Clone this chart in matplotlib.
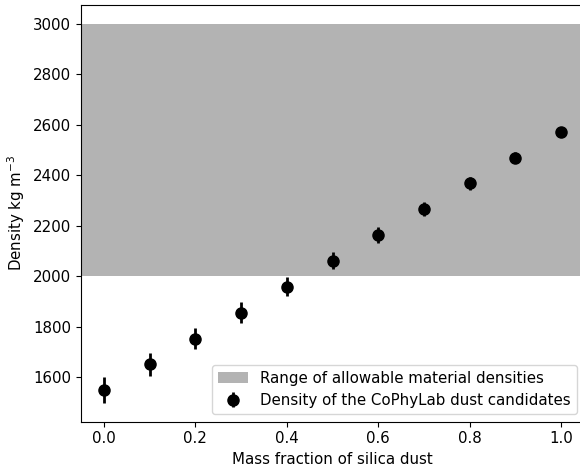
import matplotlib
matplotlib.use("Agg")
import matplotlib.pyplot as plt
import numpy as np

# mass fraction of silica and measured bulk densities
silica_frac = [0.0, 0.1, 0.2, 0.3, 0.4, 0.5, 0.6, 0.7, 0.8, 0.9, 1.0]
density = [1550, 1652, 1754, 1857, 1959, 2062, 2164, 2266, 2368, 2470, 2573]
density_err = [50, 46, 43, 40, 37, 34, 31, 29, 26, 23, 20]

# allowable material density range
rho_min = 2000
rho_max = 3000

plt.rcParams['font.family'] = 'DejaVu Sans'
plt.rcParams['font.size'] = 10.8

fig = plt.figure(figsize=(5.8, 4.69), dpi=100)
ax = fig.add_axes([81/580, 1-421.7/469, (584-81)/580, (421.7-4.7)/469])

ax.axhspan(rho_min, rho_max, color='0.7', lw=0, label='Range of allowable material densities')
ax.errorbar(silica_frac, density, yerr=density_err, fmt='o', color='k', ms=8, elinewidth=2,
            label='Density of the CoPhyLab dust candidates')

ax.set_xticks(np.arange(0, 1.01, 0.2))
ax.set_xlabel('Mass fraction of silica dust')
ax.set_ylabel(r'Density kg m$^{-3}$')
ax.legend(loc='lower right')

fig.savefig('out.png', dpi=100)
